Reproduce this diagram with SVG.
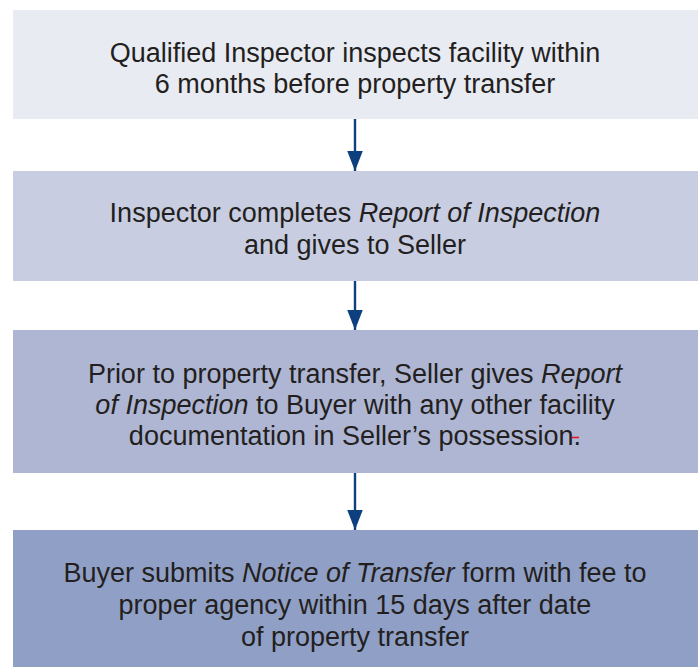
<svg xmlns="http://www.w3.org/2000/svg" width="698" height="667" viewBox="0 0 698 667">
<defs>
<style>
.t{font-family:"Liberation Sans",Arial,Helvetica,sans-serif;font-size:27px;fill:#231f20;text-anchor:middle}
.i{font-style:italic}
.c{stroke:#0e3f7e;stroke-width:2.4;fill:none}
</style>
<marker id="ah" markerUnits="userSpaceOnUse" markerWidth="20" markerHeight="16" refX="18" refY="7" orient="auto" viewBox="0 0 18 14">
<path d="M0,0 L18,7 L0,14 Z" fill="#0e3f7e"/>
</marker>
</defs>
<rect width="698" height="667" fill="#ffffff"/>
<g id="node1">
<rect x="13" y="10" width="685" height="109" fill="#e9ebf3"/>
<text class="t" x="355" y="62">Qualified Inspector inspects facility within</text>
<text class="t" x="355" y="93">6 months before property transfer</text>
</g>
<g id="node2">
<rect x="13" y="171" width="685" height="110" fill="#c8cde2"/>
<text class="t" x="355" y="222">Inspector completes <tspan class="i">Report of Inspection</tspan></text>
<text class="t" x="355" y="254">and gives to Seller</text>
</g>
<g id="node3">
<rect x="13" y="330" width="685" height="143" fill="#aeb6d3"/>
<text class="t" x="355" y="383">Prior to property transfer, Seller gives <tspan class="i">Report</tspan></text>
<text class="t" x="355" y="414"><tspan class="i">of Inspection</tspan> to Buyer with any other facility</text>
<text class="t" x="355" y="445">documentation in Seller’s possession.</text>
<line x1="572" y1="437.5" x2="579" y2="437.5" stroke="#e8191f" stroke-width="1.6"/>
</g>
<g id="node4">
<rect x="13" y="530" width="685" height="137" fill="#909fc5"/>
<text class="t" x="355" y="582">Buyer submits <tspan class="i">Notice of Transfer</tspan> form with fee to</text>
<text class="t" x="355" y="614">proper agency within 15 days after date</text>
<text class="t" x="355" y="646">of property transfer</text>
</g>
<g id="connectors">
<line class="c" x1="355" y1="119" x2="355" y2="171" marker-end="url(#ah)"/>
<line class="c" x1="355" y1="281" x2="355" y2="330" marker-end="url(#ah)"/>
<line class="c" x1="355" y1="473" x2="355" y2="530" marker-end="url(#ah)"/>
</g>
</svg>
